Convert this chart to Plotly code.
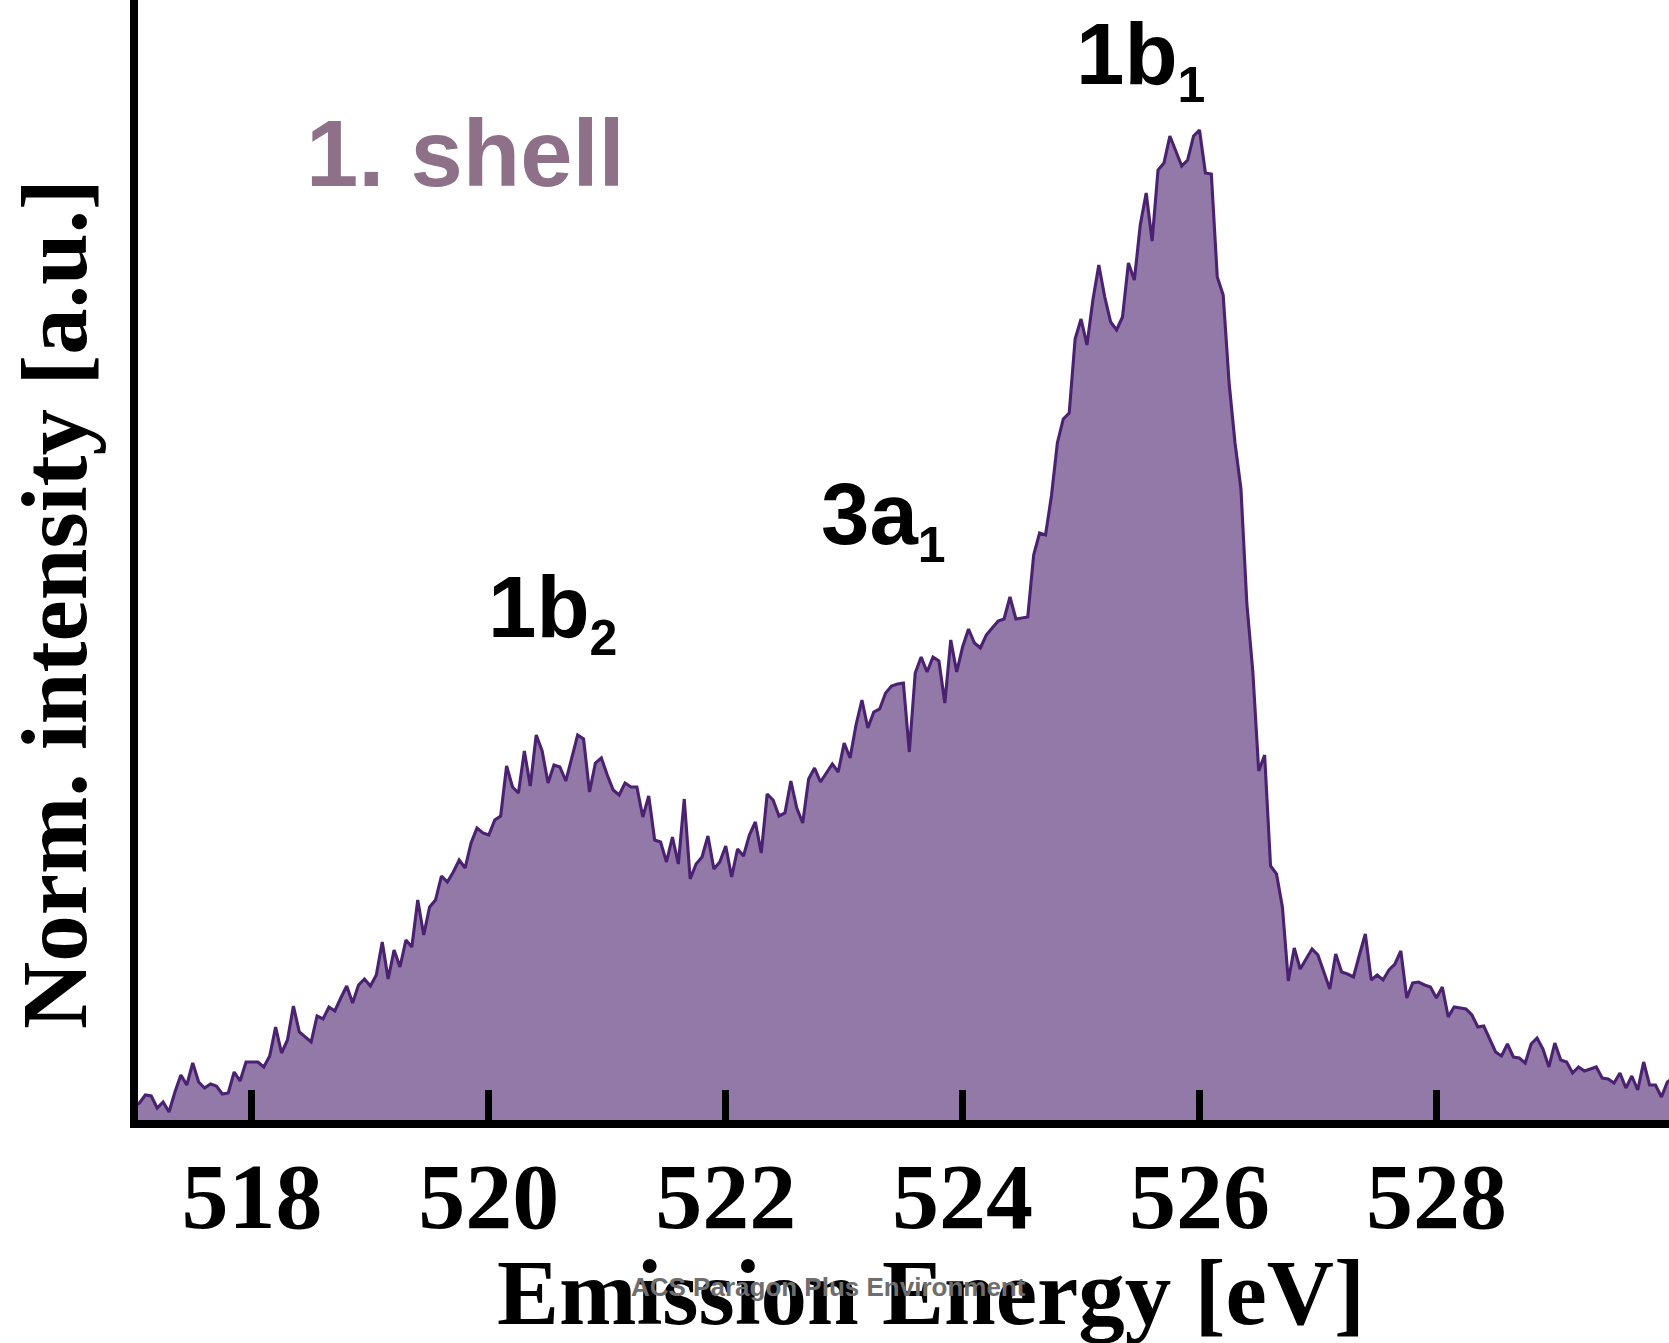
import numpy as np
import plotly.graph_objects as go

# O K-edge emission spectrum, first solvation shell
E_START = 517.0   # eV, first sample
E_STEP = 0.05     # eV, sampling step

# raw intensity (a.u.), one value per energy step
intensity = [
    18, 21, 29, 28, 16, 22, 12, 32, 49, 39,
    61, 42, 36, 40, 38, 30, 31, 52, 43, 62,
    62, 62, 57, 68, 97, 71, 84, 118, 92, 87,
    82, 108, 105, 117, 113, 126, 138, 121, 139, 145,
    138, 149, 182, 145, 174, 157, 184, 177, 224, 189,
    217, 224, 248, 242, 252, 264, 256, 281, 296, 291,
    289, 304, 308, 358, 337, 331, 373, 338, 389, 373,
    341, 359, 357, 343, 366, 389, 385, 332, 361, 366,
    349, 334, 329, 341, 337, 337, 307, 328, 284, 282,
    262, 287, 260, 325, 245, 260, 267, 288, 255, 262,
    278, 247, 275, 268, 289, 302, 271, 330, 324, 308,
    311, 343, 316, 301, 345, 356, 342, 351, 360, 352,
    381, 366, 399, 424, 396, 412, 415, 431, 438, 440,
    441, 372, 451, 467, 452, 467, 463, 421, 484, 452,
    477, 495, 481, 476, 489, 496, 503, 505, 527, 505,
    506, 507, 569, 591, 589, 628, 681, 705, 711, 785,
    805, 779, 824, 859, 827, 802, 794, 807, 861, 844,
    899, 931, 883, 954, 961, 988, 973, 958, 964, 988,
    994, 951, 950, 847, 829, 741, 681, 635, 520, 453,
    353, 369, 258, 250, 217, 143, 176, 155, 165, 175,
    169, 153, 135, 170, 152, 150, 147, 169, 190, 144,
    149, 144, 154, 160, 173, 126, 141, 142, 139, 137,
    126, 137, 107, 117, 116, 115, 109, 97, 98, 85,
    72, 68, 80, 67, 66, 61, 80, 86, 75, 57,
    81, 64, 62, 51, 57, 53, 55, 57, 46, 45,
    41, 51, 36, 48, 34, 62, 39, 39, 27, 42,
    46,
]

tick_vals = [518, 520, 522, 524, 526, 528]
tick_text = ["518", "520", "522", "524", "526", "528"]

# peak assignments: (label, subscript, energy, normalized height of label top)
peak_labels = [
    ("1b", "1", 525.50, 1.128),
    ("3a", "1", 523.33, 0.665),
    ("1b", "2", 520.54, 0.571),
]

energy = E_START + E_STEP * np.arange(len(intensity))
norm = np.array(intensity, dtype=float) / max(intensity)

FILL = "#9379a8"
LINE = "#4b2272"
SERIF = "Liberation Serif, Times New Roman, serif"
SANS = "Liberation Sans, Arial, sans-serif"

fig = go.Figure()
fig.add_trace(go.Scatter(
    x=energy, y=norm, mode="lines",
    line=dict(color=LINE, width=3.1),
    fill="tozeroy", fillcolor=FILL,
    hoverinfo="skip", showlegend=False,
))

for main, sub, ex, ey in peak_labels:
    fig.add_annotation(
        x=ex, y=ey, xref="x", yref="y",
        text=f'{main}<sub><span style="font-size:50px">{sub}</span></sub>',
        showarrow=False, xanchor="center", yanchor="top",
        font=dict(family=SANS, size=87, color="black", weight="bold"),
    )

fig.add_annotation(
    x=518.44, y=1.031, xref="x", yref="y",
    text="1. shell", showarrow=False, xanchor="left", yanchor="top",
    font=dict(family=SANS, size=94, color="#8f7089", weight="bold"),
)

# axis titles
fig.add_annotation(
    x=-0.0549, y=0.4607, xref="paper", yref="paper",
    text="Norm. intensity [a.u.]", textangle=-90, showarrow=False,
    xanchor="center", yanchor="middle",
    font=dict(family=SERIF, size=93, color="black", weight="bold"),
)
fig.add_annotation(
    x=0.518, y=-0.1536, xref="paper", yref="paper",
    text="Emission Energy [eV]", showarrow=False,
    xanchor="center", yanchor="middle",
    font=dict(family=SERIF, size=93, color="black", weight="bold"),
)
fig.add_annotation(
    x=0.451, y=-0.1491, xref="paper", yref="paper",
    text="ACS Paragon Plus Environment", showarrow=False,
    xanchor="center", yanchor="middle",
    font=dict(family=SANS, size=26, color="#6e6e6e", weight="bold"),
)

fig.update_xaxes(
    range=[517.038, 529.964],
    showline=True, linewidth=8, linecolor="black",
    ticks="inside", ticklen=30, tickwidth=7, tickcolor="black",
    tickvals=tick_vals, ticktext=tick_text,
    tickfont=dict(family=SERIF, size=94, color="black", weight="bold"),
    ticklabelstandoff=-13,
    showgrid=False, zeroline=False,
)
fig.update_yaxes(
    range=[4 / 994, 1124 / 994],
    showline=True, linewidth=8, linecolor="black",
    ticks="", showticklabels=False,
    showgrid=False, zeroline=False,
)

fig.update_layout(
    width=1669, height=1343,
    margin=dict(l=138, r=0, t=0, b=223, pad=0),
    paper_bgcolor="white", plot_bgcolor="white",
)

fig.write_html("out.html")
